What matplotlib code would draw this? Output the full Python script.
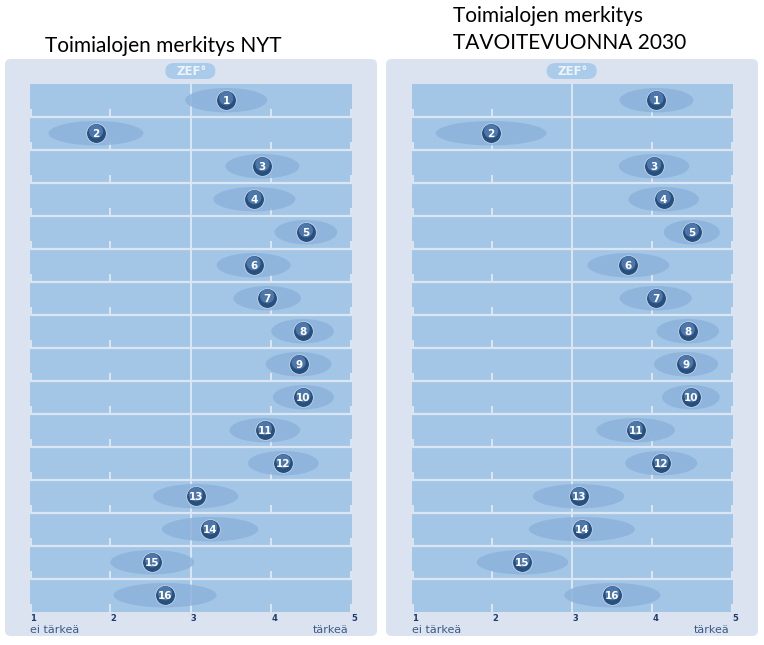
import numpy as np
import matplotlib
matplotlib.use("Agg")
import matplotlib.pyplot as plt
from matplotlib.patches import Ellipse, FancyBboxPatch
from matplotlib.transforms import offset_copy

# Data (mean position on 1..5 scale and half-width of spread ellipse)
items = [str(i) for i in range(1, 17)]
nyt_mean = [3.44, 1.82, 3.89, 3.79, 4.43, 3.78, 3.95, 4.39, 4.34, 4.40, 3.92, 4.15, 3.06, 3.24, 2.52, 2.68]
nyt_spread = [0.51, 0.59, 0.46, 0.51, 0.39, 0.46, 0.42, 0.39, 0.41, 0.38, 0.44, 0.44, 0.53, 0.60, 0.52, 0.64]
t2030_mean = [4.05, 1.99, 4.02, 4.14, 4.49, 3.70, 4.04, 4.44, 4.42, 4.48, 3.79, 4.11, 3.08, 3.12, 2.38, 3.50]
t2030_spread = [0.46, 0.69, 0.44, 0.44, 0.35, 0.51, 0.45, 0.39, 0.40, 0.36, 0.49, 0.45, 0.57, 0.66, 0.57, 0.60]
scale_ticks = [1, 2, 3, 4, 5]
scale_left = "ei tärkeä"
scale_right = "tärkeä"

W, H = 764, 645
fig = plt.figure(figsize=(W / 100, H / 100), dpi=100)
fig.patch.set_facecolor("white")


def fx(x):
    return x / W


def fy(y):
    return 1 - y / H


BAR = "#a3c6e7"
ELL = "#8cb3db"
SEP = "#dbe6f2"
PANEL = "#dce3f0"
NAVY = "#27507f"


def panel(x0, x1, axis_left, axis_right, mean, spread):
    # light background box
    box = FancyBboxPatch((fx(x0), fy(636)), fx(x1) - fx(x0), fy(59) - fy(636),
                         boxstyle="round,pad=0,rounding_size=0.008",
                         transform=fig.transFigure, facecolor=PANEL,
                         edgecolor="none", zorder=0)
    fig.add_artist(box)
    # ZEF logo pill
    cx = (axis_left + axis_right) / 2 - 0.5
    pill = FancyBboxPatch((fx(cx - 25), fy(79)), fx(50), fy(63) - fy(79),
                          boxstyle="round,pad=0,rounding_size=0.012",
                          transform=fig.transFigure, facecolor="#aacbea",
                          edgecolor="none", zorder=1)
    fig.add_artist(pill)
    fig.text(fx(cx + 1), fy(71.5), "ZEF°", color="#eef4fb", fontsize=8.5,
             fontweight="bold", ha="center", va="center", zorder=2)

    ax = fig.add_axes([fx(axis_left), fy(611.7), fx(axis_right - axis_left),
                       fy(83.7) - fy(611.7)])
    n = len(mean)
    ax.set_xlim(1, 5)
    ax.set_ylim(n, 0)
    ax.set_facecolor(BAR)
    for s in ax.spines.values():
        s.set_visible(False)

    # row separators
    for i in range(1, n):
        ax.axhline(i, color=SEP, lw=1.6, zorder=1)
    ax.axvline(3, color=SEP, lw=1.4, zorder=1)
    for i in range(n):
        for t in [1.01, 2, 4, 4.99]:
            ax.plot([t, t], [i + 1, i + 0.76], color=SEP, lw=1.4,
                    solid_capstyle="butt", zorder=1)

    ys = np.arange(n) + 0.5
    for m, sp, y in zip(mean, spread, ys):
        ax.add_patch(Ellipse((m, y), 2 * sp, 0.74, facecolor=ELL,
                             edgecolor="none", alpha=0.85, zorder=2))
    ax.scatter(mean, ys, s=200, color=NAVY, edgecolors="#d6e2ef",
               linewidths=0.5, zorder=3)
    hl = offset_copy(ax.transData, fig=fig, x=0, y=2, units="dots")
    ax.scatter(mean, ys, s=105, color="#4d77aa", edgecolors="none",
               transform=hl, zorder=4)
    for m, y, lab in zip(mean, ys, items):
        ax.text(m, y + 0.03, lab, color="white", fontsize=7.5, fontweight="bold",
                ha="center", va="center", zorder=5)

    ax.set_xticks(scale_ticks)
    ax.set_xticklabels([str(t) for t in scale_ticks], fontsize=6,
                       fontweight="bold", color="#1d3c6a")
    for lbl in ax.get_xticklabels():
        lbl.set_horizontalalignment("left")
    ax.tick_params(axis="x", length=0, pad=2)
    ax.set_yticks([])
    ax.text(0, -0.034, scale_left, transform=ax.transAxes, fontsize=8,
            color="#3b5b84", ha="left", va="center")
    ax.text(0.99, -0.034, scale_right, transform=ax.transAxes, fontsize=8,
            color="#3b5b84", ha="right", va="center")
    return ax


panel(5, 377, 30, 351.7, nyt_mean, nyt_spread)
panel(386, 758, 411.7, 732.7, t2030_mean, t2030_spread)

fig.text(fx(45), fy(52), "Toimialojen merkitys NYT", fontsize=15,
         family="Lato", va="baseline", ha="left")
fig.text(fx(453), fy(22), "Toimialojen merkitys", fontsize=15,
         family="Lato", va="baseline", ha="left")
fig.text(fx(453), fy(49), "TAVOITEVUONNA 2030", fontsize=15,
         family="Lato", va="baseline", ha="left")

plt.savefig("out.png", dpi=100)
